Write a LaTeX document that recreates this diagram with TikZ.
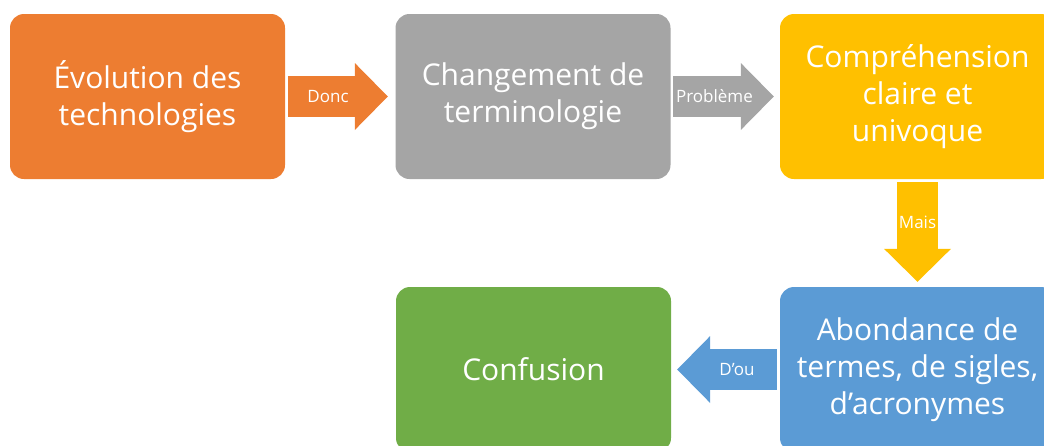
\documentclass[tikz,border=0pt]{standalone}
\usepackage{fontspec}
\setmainfont{Open Sans}
\usetikzlibrary{arrows.meta}
\definecolor{evolorange}{HTML}{ED7D31}
\definecolor{termgray}{HTML}{A5A5A5}
\definecolor{compyellow}{HTML}{FFC000}
\definecolor{abondblue}{HTML}{5B9BD5}
\definecolor{confgreen}{HTML}{70AD47}
\tikzset{
  box/.style={rounded corners=14pt, minimum width=275pt, minimum height=165pt,
    inner sep=0pt, text=white, align=center, font=\fontsize{30}{37}\selectfont},
  blockarrow/.style={line width=41pt, -{Triangle[length=33pt,width=67pt,line width=0pt]}},
  arrowlabel/.style={text=white, inner sep=0pt, font=\fontsize{17}{18}\selectfont}
}
\begin{document}
\begin{tikzpicture}[x=1pt, y=-1pt]
	\useasboundingbox (0, 0) rectangle (1044, 445);
	\clip (0, 0) rectangle (1044, 445);
	\node[box, fill=evolorange] (evol) at (147.5, 96.5) {Évolution des\\technologies};
	\node[box, fill=termgray] (chg) at (533, 96.5) {Changement de\\terminologie};
	\node[box, fill=compyellow] (comp) at (917.5, 96.5) {Compréhension\\claire et\\univoque};
	\node[box, fill=abondblue] (abond) at (917.5, 369.5) {Abondance de\\termes, de sigles,\\d’acronymes};
	\node[box, fill=confgreen] (conf) at (533.5, 369.5) {Confusion};
	\draw[blockarrow, evolorange] ([xshift=3pt]evol.east) -- ([xshift=-7.5pt]chg.west)
		node[arrowlabel, pos=0.4] {Donc};
	\draw[blockarrow, termgray] ([xshift=2.5pt]chg.east) -- ([xshift=-6pt]comp.west)
		node[arrowlabel, pos=0.41] {Problème};
	\draw[blockarrow, compyellow] ([yshift=-3pt]comp.south) -- ([yshift=5pt]abond.north)
		node[arrowlabel, pos=0.4] {Mais};
	\draw[blockarrow, abondblue] ([xshift=-3pt]abond.west) -- ([xshift=6pt]conf.east)
		node[arrowlabel, pos=0.4] {D’ou};
\end{tikzpicture}
\end{document}
